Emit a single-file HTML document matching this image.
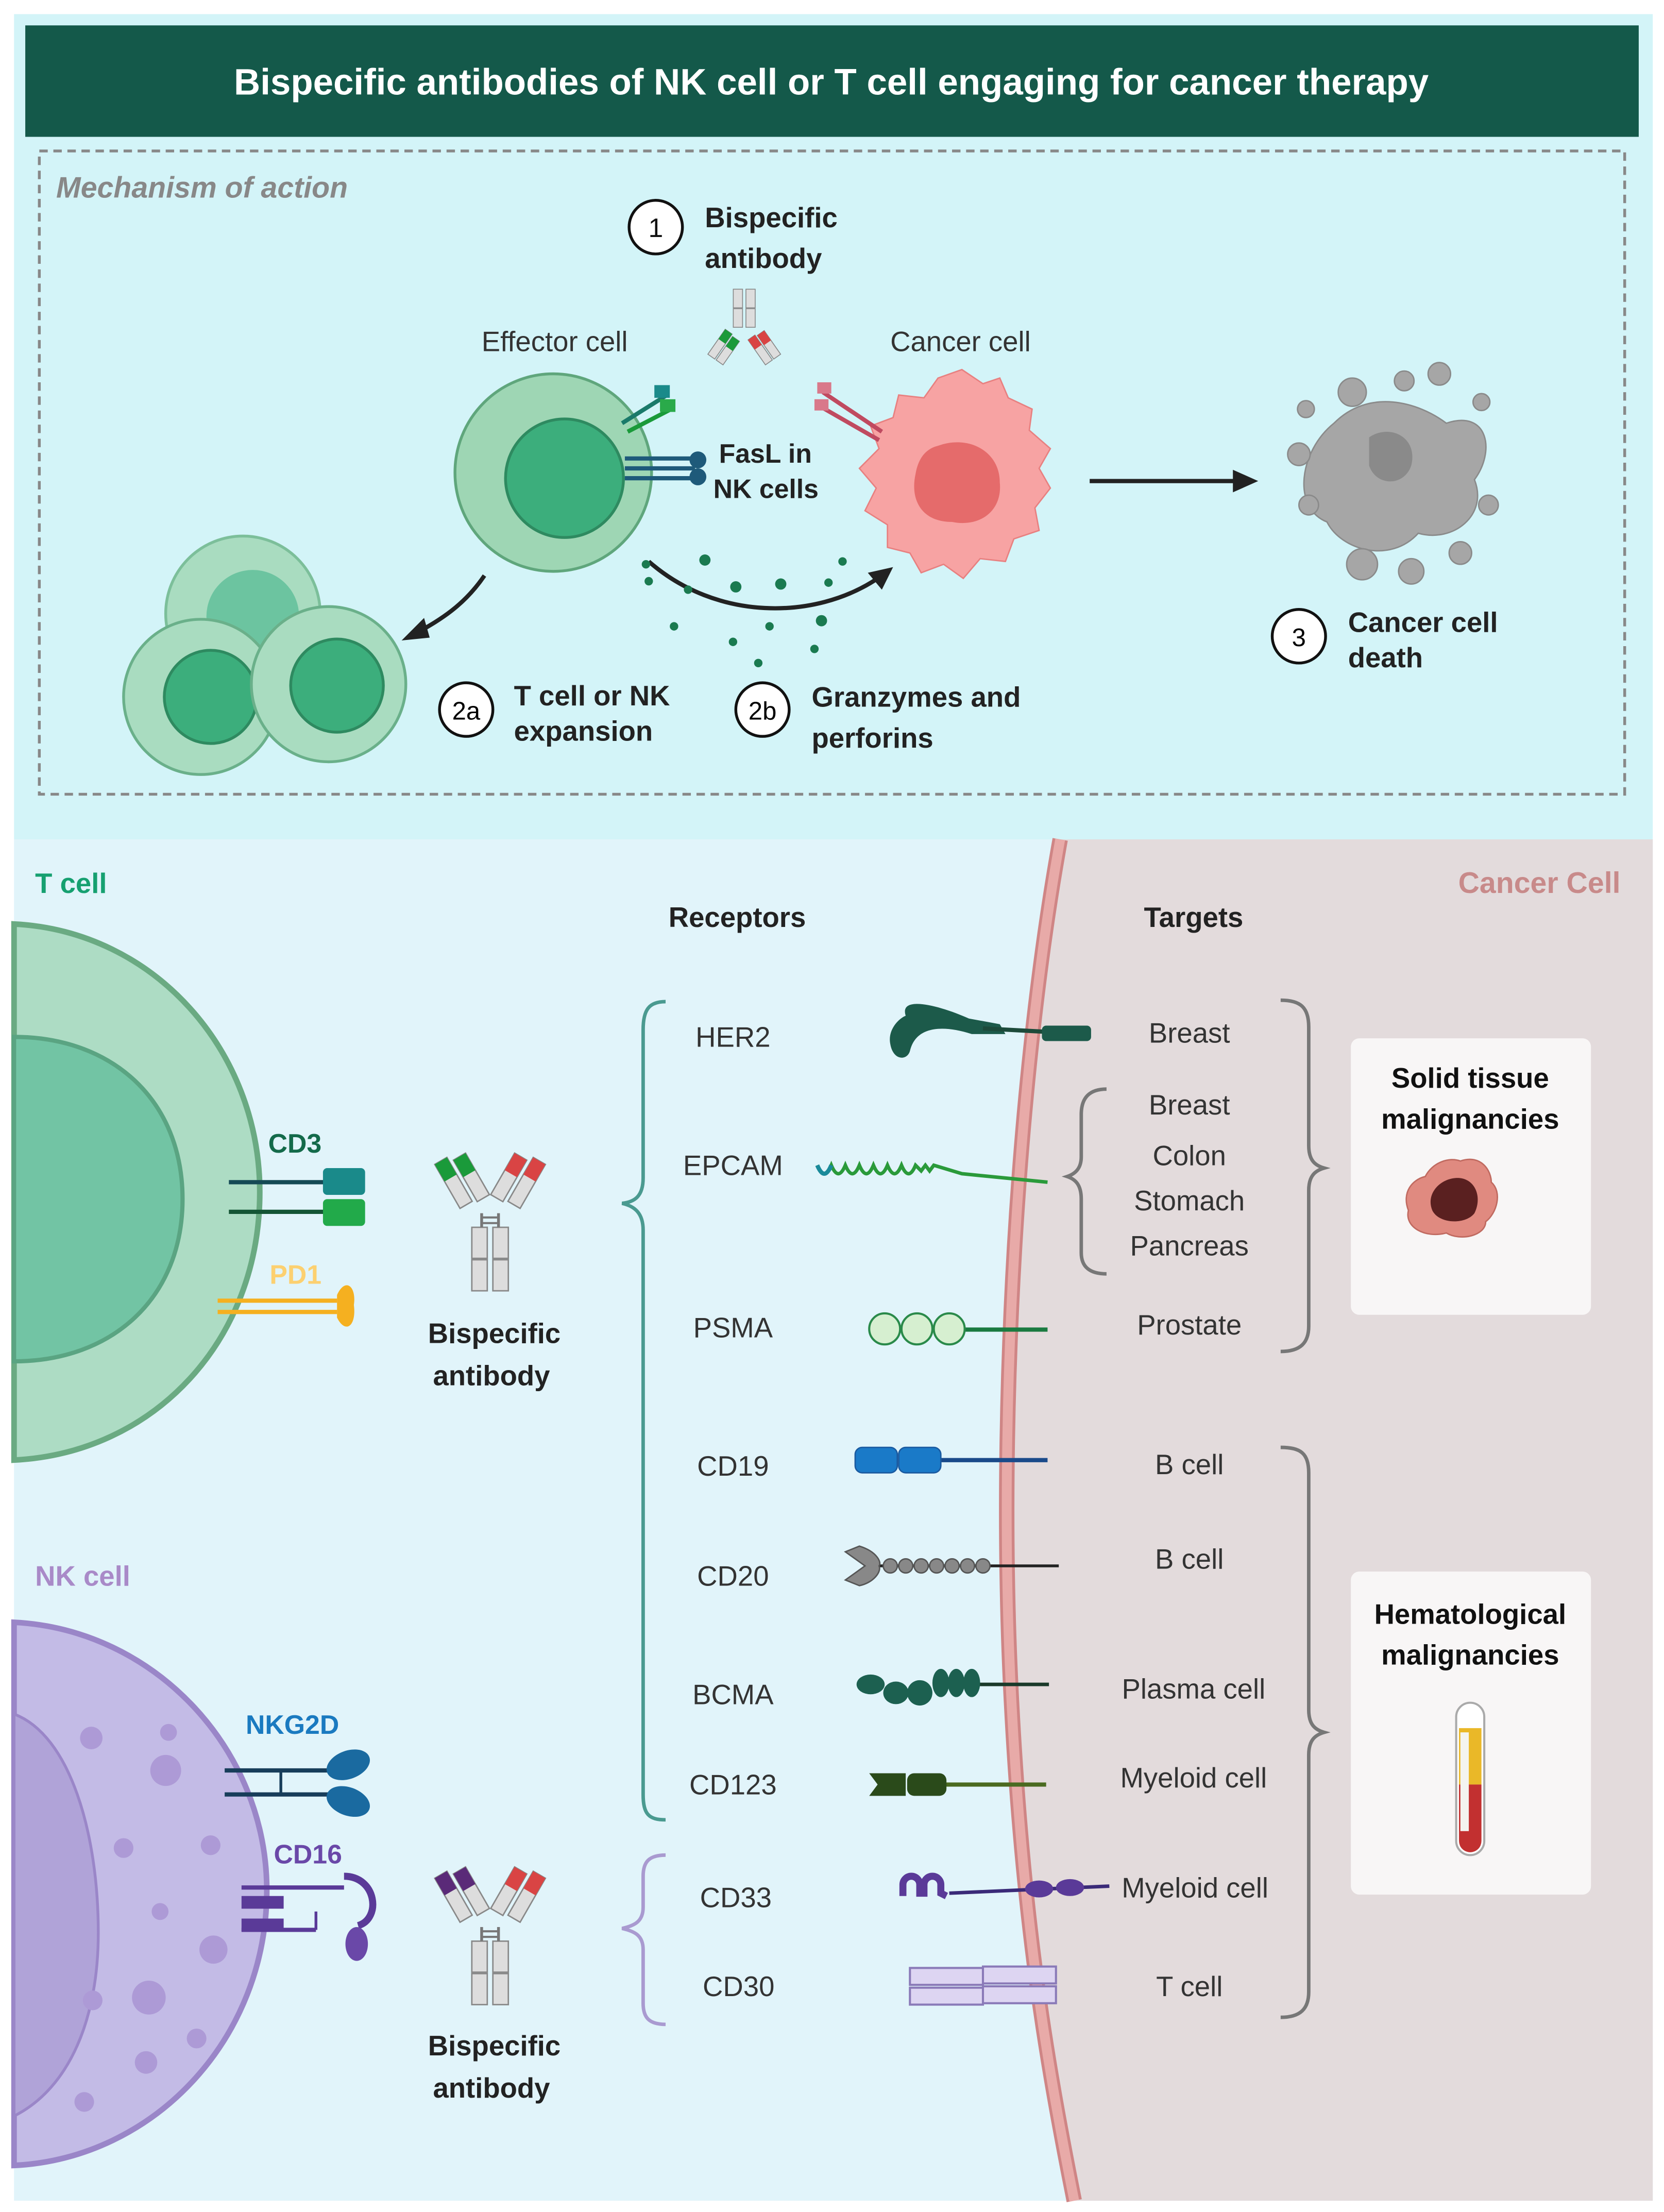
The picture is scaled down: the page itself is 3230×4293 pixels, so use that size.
<!DOCTYPE html>
<html><head><meta charset="utf-8"><style>
html,body{margin:0;padding:0;background:#fff;}
svg{display:block;}
text{font-family:"Liberation Sans",sans-serif;}
</style></head><body>
<svg width="3230" height="4293" viewBox="0 0 1185 1568" preserveAspectRatio="none" xmlns="http://www.w3.org/2000/svg">
<defs>
<g id="ab">
 <rect x="-13" y="55" width="11" height="22" fill="#ddd" stroke="#888" stroke-width="1"/>
 <rect x="2" y="55" width="11" height="22" fill="#ddd" stroke="#888" stroke-width="1"/>
 <rect x="-13" y="78" width="11" height="22" fill="#ddd" stroke="#888" stroke-width="1"/>
 <rect x="2" y="78" width="11" height="22" fill="#ddd" stroke="#888" stroke-width="1"/>
 <line x1="-6" y1="45" x2="-6" y2="55" stroke="#777" stroke-width="2"/>
 <line x1="6" y1="45" x2="6" y2="55" stroke="#777" stroke-width="2"/>
 <line x1="-6" y1="48" x2="6" y2="48" stroke="#777" stroke-width="1.5"/>
 <line x1="-6" y1="52" x2="6" y2="52" stroke="#777" stroke-width="1.5"/>
 <g transform="translate(-20,20) rotate(-30)">
  <rect x="-12" y="-18" width="10" height="36" fill="#ddd" stroke="#888"/>
  <rect x="1" y="-14" width="10" height="34" fill="#ddd" stroke="#888"/>
 </g>
 <g transform="translate(20,20) rotate(30)">
  <rect x="-11" y="-14" width="10" height="34" fill="#ddd" stroke="#888"/>
  <rect x="2" y="-18" width="10" height="36" fill="#ddd" stroke="#888"/>
 </g>
</g>
</defs>
<rect width="1185" height="1568" fill="#fff"/>
<!-- top panel -->
<rect x="10" y="10" width="1167" height="585" fill="#d3f4f8"/>
<rect x="18" y="18" width="1149" height="79" fill="#14594a"/>
<text x="592" y="67" font-size="26" font-weight="bold" fill="#fff" text-anchor="middle">Bispecific antibodies of NK cell or T cell engaging for cancer therapy</text>
<rect x="28" y="107" width="1129" height="456" fill="none" stroke="#888" stroke-width="2" stroke-dasharray="6,4"/>
<text x="40" y="140" font-size="21" font-style="italic" font-weight="bold" fill="#888">Mechanism of action</text>
<!-- step 1 -->
<circle cx="467" cy="161" r="19" fill="#fff" stroke="#111" stroke-width="2"/>
<text x="467" y="168" font-size="19" text-anchor="middle" fill="#111">1</text>
<text x="502" y="161" font-size="20" font-weight="bold" fill="#222">Bispecific</text>
<text x="502" y="190" font-size="20" font-weight="bold" fill="#222">antibody</text>
<g transform="translate(530,205) scale(0.6)">
 <rect x="-13" y="0" width="11" height="22" fill="#ddd" stroke="#888"/><rect x="2" y="0" width="11" height="22" fill="#ddd" stroke="#888"/>
 <rect x="-13" y="23" width="11" height="22" fill="#ddd" stroke="#888"/><rect x="2" y="23" width="11" height="22" fill="#ddd" stroke="#888"/>
 <g transform="translate(-25,70) rotate(35)"><rect x="-11" y="-20" width="10" height="36" fill="#ddd" stroke="#888"/><rect x="-11" y="-20" width="10" height="14" fill="#1a9a3a"/><rect x="1" y="-18" width="10" height="34" fill="#ddd" stroke="#888"/><rect x="1" y="-18" width="10" height="14" fill="#1a9a3a"/></g>
 <g transform="translate(25,70) rotate(-35)"><rect x="-11" y="-20" width="10" height="36" fill="#ddd" stroke="#888"/><rect x="-11" y="-20" width="10" height="14" fill="#d94444"/><rect x="1" y="-18" width="10" height="34" fill="#ddd" stroke="#888"/><rect x="1" y="-18" width="10" height="14" fill="#d94444"/></g>
</g>
<text x="395" y="249" font-size="20" fill="#333" text-anchor="middle">Effector cell</text>
<text x="684" y="249" font-size="20" fill="#333" text-anchor="middle">Cancer cell</text>
<!-- effector cell -->
<circle cx="394" cy="335" r="70" fill="#9ed6b4" stroke="#5fa67c" stroke-width="2"/>
<circle cx="402" cy="339" r="42" fill="#3cae7c" stroke="#2e8a60" stroke-width="2"/>
<line x1="443" y1="300" x2="475" y2="280" stroke="#1a7a6a" stroke-width="3"/>
<line x1="447" y1="306" x2="478" y2="290" stroke="#1a9a3a" stroke-width="3"/>
<rect x="466" y="273" width="11" height="9" fill="#1a8a8a"/><rect x="470" y="283" width="11" height="9" fill="#2aaa4a"/>
<line x1="445" y1="325" x2="495" y2="325" stroke="#1e5a7a" stroke-width="3"/>
<line x1="445" y1="332" x2="495" y2="332" stroke="#1e5a7a" stroke-width="3"/>
<line x1="445" y1="339" x2="495" y2="339" stroke="#1e5a7a" stroke-width="3"/>
<circle cx="497" cy="326" r="6" fill="#1e5a7a"/><circle cx="497" cy="338" r="6" fill="#1e5a7a"/>
<text x="512" y="328" font-size="19" font-weight="bold" fill="#222">FasL in</text>
<text x="508" y="353" font-size="19" font-weight="bold" fill="#222">NK cells</text>
<!-- cancer cell -->
<path d="M685,262 L700,272 L712,268 L718,282 L735,290 L733,305 L748,318 L740,332 L748,346 L737,360 L740,376 L722,382 L716,398 L698,396 L686,410 L672,400 L656,406 L648,392 L632,388 L632,372 L616,362 L624,346 L612,332 L626,318 L620,302 L636,296 L640,280 L658,282 L668,268 Z" fill="#f7a3a3" stroke="#e88080" stroke-width="1"/>
<path d="M668,316 C690,308 712,320 712,342 C714,362 698,374 678,370 C656,370 648,354 652,336 C654,324 660,318 668,316 Z" fill="#e56b6b"/>
<line x1="628" y1="306" x2="586" y2="278" stroke="#c04a60" stroke-width="3"/>
<line x1="626" y1="312" x2="584" y2="288" stroke="#c04a60" stroke-width="3"/>
<rect x="582" y="271" width="10" height="8" fill="#d9788a"/><rect x="580" y="283" width="10" height="8" fill="#d9788a"/>
<!-- arrows -->
<line x1="776" y1="341" x2="880" y2="341" stroke="#222" stroke-width="3"/>
<polygon points="896,341 878,333 878,349" fill="#222"/>
<path d="M462,398 C510,440 580,440 625,410" fill="none" stroke="#222" stroke-width="3"/>
<polygon points="636,402 618,406 628,418" fill="#222"/>
<path d="M345,408 C330,430 312,440 298,448" fill="none" stroke="#222" stroke-width="3"/>
<polygon points="286,454 302,438 306,452" fill="#222"/>
<g fill="#1a7a50">
<circle cx="502" cy="397" r="4"/><circle cx="524" cy="416" r="4"/><circle cx="556" cy="414" r="4"/><circle cx="590" cy="413" r="3"/><circle cx="462" cy="412" r="3"/><circle cx="490" cy="418" r="3"/><circle cx="480" cy="444" r="3"/><circle cx="522" cy="455" r="3"/><circle cx="548" cy="444" r="3"/><circle cx="580" cy="460" r="3"/><circle cx="540" cy="470" r="3"/><circle cx="600" cy="398" r="3"/><circle cx="585" cy="440" r="4"/><circle cx="460" cy="400" r="3"/>
</g>
<!-- expansion cells -->
<circle cx="173" cy="435" r="55" fill="#a9dcc0" stroke="#7cbf9a" stroke-width="2"/>
<circle cx="180" cy="437" r="33" fill="#6cc4a0"/>
<circle cx="143" cy="494" r="55" fill="#a9dcc0" stroke="#6ab08a" stroke-width="2"/>
<circle cx="150" cy="494" r="33" fill="#3cae7c" stroke="#2e8a60" stroke-width="2"/>
<circle cx="234" cy="485" r="55" fill="#a9dcc0" stroke="#6ab08a" stroke-width="2"/>
<circle cx="240" cy="486" r="33" fill="#3cae7c" stroke="#2e8a60" stroke-width="2"/>
<circle cx="332" cy="503" r="19" fill="#fff" stroke="#111" stroke-width="2"/>
<text x="332" y="510" font-size="18" text-anchor="middle">2a</text>
<text x="366" y="500" font-size="20" font-weight="bold" fill="#222">T cell or NK</text>
<text x="366" y="525" font-size="20" font-weight="bold" fill="#222">expansion</text>
<circle cx="543" cy="503" r="19" fill="#fff" stroke="#111" stroke-width="2"/>
<text x="543" y="510" font-size="18" text-anchor="middle">2b</text>
<text x="578" y="501" font-size="20" font-weight="bold" fill="#222">Granzymes and</text>
<text x="578" y="530" font-size="20" font-weight="bold" fill="#222">perforins</text>
<!-- dead cell -->
<g fill="#a6a6a6" stroke="#8a8a8a" stroke-width="1">
<path d="M950,300 C975,275 1010,285 1030,300 C1060,290 1065,320 1050,340 C1060,365 1035,385 1010,378 C990,400 955,390 945,370 C920,360 925,320 950,300 Z"/>
<circle cx="963" cy="278" r="10"/><circle cx="1000" cy="270" r="7"/><circle cx="930" cy="290" r="6"/><circle cx="925" cy="322" r="8"/><circle cx="932" cy="358" r="7"/><circle cx="970" cy="400" r="11"/><circle cx="1005" cy="405" r="9"/><circle cx="1040" cy="392" r="8"/><circle cx="1060" cy="358" r="7"/><circle cx="1055" cy="285" r="6"/><circle cx="1025" cy="265" r="8"/>
</g>
<path d="M975,310 C990,300 1010,310 1005,330 C1000,345 980,345 975,330 Z" fill="#8a8a8a"/>
<circle cx="925" cy="451" r="19" fill="#fff" stroke="#111" stroke-width="2"/>
<text x="925" y="458" font-size="18" text-anchor="middle">3</text>
<text x="960" y="448" font-size="20" font-weight="bold" fill="#222">Cancer cell</text>
<text x="960" y="473" font-size="20" font-weight="bold" fill="#222">death</text>

<!-- bottom panel -->
<rect x="10" y="595" width="1167" height="965" fill="#e1f4fa"/>
<path d="M755,595 C725,760 710,1000 720,1200 C728,1360 745,1460 765,1560 L1177,1560 L1177,595 Z" fill="#e3dbdc"/>
<path d="M755,595 C725,760 710,1000 720,1200 C728,1360 745,1460 765,1560" fill="none" stroke="#cf8585" stroke-width="11"/>
<path d="M755,595 C725,760 710,1000 720,1200 C728,1360 745,1460 765,1560" fill="none" stroke="#e8aaa8" stroke-width="7"/>
<text x="25" y="633" font-size="20" font-weight="bold" fill="#16a070">T cell</text>
<text x="1154" y="633" font-size="21" font-weight="bold" fill="#c88a8a" text-anchor="end">Cancer Cell</text>
<text x="525" y="657" font-size="20" font-weight="bold" fill="#222" text-anchor="middle">Receptors</text>
<text x="850" y="657" font-size="20" font-weight="bold" fill="#222" text-anchor="middle">Targets</text>
<!-- T cell -->
<path d="M10,655 C110,660 185,745 185,845 C185,950 110,1030 10,1035 Z" fill="#addcc4" stroke="#6aaa82" stroke-width="4"/>
<path d="M10,735 C80,735 130,780 130,850 C130,920 80,965 10,965 Z" fill="#72c4a4" stroke="#5aa482" stroke-width="3"/>
<text x="191" y="817" font-size="19" font-weight="bold" fill="#136a4a">CD3</text>
<line x1="163" y1="838" x2="232" y2="838" stroke="#154a55" stroke-width="3"/>
<line x1="163" y1="859" x2="232" y2="859" stroke="#145535" stroke-width="3"/>
<rect x="230" y="828" width="30" height="19" rx="3" fill="#1a8a8a"/>
<rect x="230" y="850" width="30" height="19" rx="3" fill="#22aa4a"/>
<text x="192" y="910" font-size="19" font-weight="bold" fill="#fcd070">PD1</text>
<line x1="155" y1="922" x2="240" y2="922" stroke="#f5b020" stroke-width="3"/>
<line x1="155" y1="930" x2="240" y2="930" stroke="#f5b020" stroke-width="3"/>
<path d="M240,918 C246,905 254,912 252,925 C254,940 246,946 240,934 Z" fill="#f5b020"/>
<!-- antibody 1 -->
<g transform="translate(349,815)">
 <use href="#ab"/>
 <g transform="translate(-20,20) rotate(-30)"><rect x="-12" y="-18" width="10" height="14" fill="#1a9a3a"/><rect x="1" y="-14" width="10" height="14" fill="#1a9a3a"/></g>
 <g transform="translate(20,20) rotate(30)"><rect x="-11" y="-14" width="10" height="14" fill="#d94444"/><rect x="2" y="-18" width="10" height="14" fill="#d94444"/></g>
</g>
<text x="352" y="952" font-size="20" font-weight="bold" fill="#222" text-anchor="middle">Bispecific</text>
<text x="350" y="982" font-size="20" font-weight="bold" fill="#222" text-anchor="middle">antibody</text>
<!-- NK cell -->
<text x="25" y="1124" font-size="20" font-weight="bold" fill="#a98ac8">NK cell</text>
<path d="M10,1150 C110,1155 190,1240 190,1340 C190,1445 110,1530 10,1535 Z" fill="#c3bbe6" stroke="#9a86c8" stroke-width="4"/>
<path d="M10,1215 C50,1230 70,1300 70,1370 C70,1430 50,1480 10,1500 Z" fill="#b0a3d8" stroke="#9a86c8" stroke-width="2"/>
<g fill="#ad9ad6"><circle cx="65" cy="1232" r="8"/><circle cx="118" cy="1255" r="11"/><circle cx="88" cy="1310" r="7"/><circle cx="150" cy="1308" r="7"/><circle cx="114" cy="1355" r="6"/><circle cx="152" cy="1382" r="10"/><circle cx="106" cy="1416" r="12"/><circle cx="66" cy="1418" r="7"/><circle cx="140" cy="1445" r="7"/><circle cx="104" cy="1462" r="8"/><circle cx="60" cy="1490" r="7"/><circle cx="120" cy="1228" r="6"/></g>
<text x="175" y="1229" font-size="19" font-weight="bold" fill="#1a7ac0">NKG2D</text>
<line x1="160" y1="1255" x2="235" y2="1255" stroke="#173d5a" stroke-width="3"/>
<line x1="160" y1="1272" x2="235" y2="1272" stroke="#173d5a" stroke-width="3"/>
<line x1="200" y1="1255" x2="200" y2="1272" stroke="#173d5a" stroke-width="2"/>
<ellipse cx="248" cy="1251" rx="16" ry="10" transform="rotate(-20 248 1251)" fill="#1a6aa0"/>
<ellipse cx="248" cy="1277" rx="16" ry="10" transform="rotate(20 248 1277)" fill="#1a6aa0"/>
<text x="195" y="1321" font-size="19" font-weight="bold" fill="#6a48a8">CD16</text>
<line x1="172" y1="1338" x2="245" y2="1338" stroke="#5a3a98" stroke-width="3"/>
<line x1="172" y1="1368" x2="225" y2="1368" stroke="#5a3a98" stroke-width="3"/>
<rect x="172" y="1344" width="30" height="9" fill="#5a3a98"/><rect x="172" y="1360" width="30" height="9" fill="#5a3a98"/>
<line x1="225" y1="1355" x2="225" y2="1368" stroke="#5a3a98" stroke-width="2"/>
<path d="M245,1330 C268,1330 272,1360 255,1365" fill="none" stroke="#5a3a98" stroke-width="5"/>
<ellipse cx="254" cy="1378" rx="8" ry="12" fill="#6a48a8"/>
<!-- antibody 2 -->
<g transform="translate(349,1321)">
 <use href="#ab"/>
 <g transform="translate(-20,20) rotate(-30)"><rect x="-12" y="-18" width="10" height="14" fill="#5a2a78"/><rect x="1" y="-14" width="10" height="14" fill="#5a2a78"/></g>
 <g transform="translate(20,20) rotate(30)"><rect x="-11" y="-14" width="10" height="14" fill="#d94444"/><rect x="2" y="-18" width="10" height="14" fill="#d94444"/></g>
</g>
<text x="352" y="1457" font-size="20" font-weight="bold" fill="#222" text-anchor="middle">Bispecific</text>
<text x="350" y="1487" font-size="20" font-weight="bold" fill="#222" text-anchor="middle">antibody</text>
<!-- braces left -->
<path d="M474,710 C462,710 458,716 458,730 L458,835 C458,848 452,852 443,853 C452,855 458,860 458,872 L458,1272 C458,1286 462,1290 474,1290" fill="none" stroke="#4a9a90" stroke-width="2.5"/>
<path d="M474,1315 C462,1315 458,1320 458,1330 L458,1352 C458,1362 452,1365 443,1367 C452,1369 458,1372 458,1382 L458,1420 C458,1430 462,1435 474,1435" fill="none" stroke="#a99ad0" stroke-width="2.5"/>
<!-- receptor labels -->
<g font-size="20" fill="#333" text-anchor="middle">
<text x="522" y="742">HER2</text><text x="522" y="833">EPCAM</text><text x="522" y="948">PSMA</text>
<text x="522" y="1046">CD19</text><text x="522" y="1124">CD20</text><text x="522" y="1208">BCMA</text>
<text x="522" y="1272">CD123</text><text x="524" y="1352">CD33</text><text x="526" y="1415">CD30</text>
</g>
<!-- target labels -->
<g font-size="20" fill="#333" text-anchor="middle">
<text x="847" y="739">Breast</text><text x="847" y="790">Breast</text><text x="847" y="826">Colon</text><text x="847" y="858">Stomach</text><text x="847" y="890">Pancreas</text><text x="847" y="946">Prostate</text>
<text x="847" y="1045">B cell</text><text x="847" y="1112">B cell</text><text x="850" y="1204">Plasma cell</text><text x="850" y="1267">Myeloid cell</text><text x="851" y="1345">Myeloid cell</text><text x="847" y="1415">T cell</text>
</g>
<!-- right braces -->
<g fill="none" stroke="#777" stroke-width="2.5">
<path d="M912,709 C926,709 932,714 932,728 L932,812 C932,822 936,826 943,828 C936,830 932,834 932,844 L932,940 C932,952 926,958 912,958"/>
<path d="M788,772 C776,772 770,778 770,790 L770,820 C770,828 766,832 760,834 C766,836 770,840 770,850 L770,888 C770,898 776,903 788,903"/>
<path d="M912,1026 C926,1026 932,1030 932,1044 L932,1212 C932,1222 936,1226 943,1228 C936,1230 932,1234 932,1244 L932,1412 C932,1424 926,1430 912,1430"/>
</g>
<!-- receptor glyphs -->
<path d="M645,720 C640,705 670,713 690,722 L712,726 L716,733 L692,733 C670,726 652,728 648,745 C646,752 636,752 634,740 C632,730 640,722 645,720 Z" fill="#1c5a4a"/>
<line x1="700" y1="729" x2="775" y2="733" stroke="#1c4a3a" stroke-width="3"/>
<rect x="742" y="727" width="35" height="11" rx="3" fill="#1c5a4a"/>
<path d="M582,826 q5,12 10,0 q5,12 10,0 q5,12 10,0 q5,12 10,0 q5,12 10,0 q5,12 10,0 q5,12 10,0 l4,4 l3,-4 l3,4 l3,-4 l20,6 L746,838" fill="none" stroke="#2a9a3a" stroke-width="2.5"/>
<path d="M582,826 q5,12 10,0" fill="none" stroke="#1a8a9a" stroke-width="3"/>
<rect x="622" y="941" width="124" height="3" fill="#1a7a40"/>
<circle cx="630" cy="942" r="11" fill="#d6efd0" stroke="#2a8a4a" stroke-width="1.5"/>
<circle cx="653" cy="942" r="11" fill="#d6efd0" stroke="#2a8a4a" stroke-width="1.5"/>
<circle cx="676" cy="942" r="11" fill="#d6efd0" stroke="#2a8a4a" stroke-width="1.5"/>
<line x1="660" y1="1035" x2="746" y2="1035" stroke="#1a4a8a" stroke-width="3"/>
<rect x="609" y="1026" width="30" height="18" rx="5" fill="#1a7ac8" stroke="#1a5aa0"/>
<rect x="640" y="1026" width="30" height="18" rx="5" fill="#1a7ac8" stroke="#1a5aa0"/>
<line x1="620" y1="1110" x2="754" y2="1110" stroke="#222" stroke-width="2"/>
<path d="M602,1100 L612,1096 C625,1100 628,1108 626,1110 C628,1114 622,1122 612,1124 L602,1120 L616,1110 Z" fill="#888" stroke="#555"/>
<g fill="#888" stroke="#555"><circle cx="634" cy="1110" r="5"/><circle cx="645" cy="1110" r="5"/><circle cx="656" cy="1110" r="5"/><circle cx="667" cy="1110" r="5"/><circle cx="678" cy="1110" r="5"/><circle cx="700" cy="1110" r="5"/><circle cx="689" cy="1110" r="5"/></g>
<line x1="690" y1="1194" x2="747" y2="1194" stroke="#1a3a2a" stroke-width="2.5"/>
<g fill="#1c6050"><ellipse cx="620" cy="1194" rx="10" ry="7"/><ellipse cx="638" cy="1200" rx="9" ry="8"/><ellipse cx="655" cy="1200" rx="9" ry="9" transform="rotate(-30 655 1200)"/><ellipse cx="670" cy="1193" rx="6" ry="10"/><ellipse cx="681" cy="1193" rx="6" ry="10"/><ellipse cx="692" cy="1193" rx="6" ry="10"/></g>
<line x1="660" y1="1265" x2="745" y2="1265" stroke="#4a6a20" stroke-width="3"/>
<path d="M619,1257 L645,1257 L645,1273 L619,1273 L625,1265 Z" fill="#2a4a1a"/>
<rect x="646" y="1257" width="28" height="16" rx="5" fill="#2a4a1a"/>
<path d="M643,1344 l0,-8 a6,6 0 0 1 12,0 l0,6 l3,0 l0,-6 a6,6 0 0 1 12,0 l0,6 l4,2" fill="none" stroke="#5a3a98" stroke-width="5"/>
<line x1="676" y1="1342" x2="790" y2="1337" stroke="#3a2a78" stroke-width="2.5"/>
<ellipse cx="740" cy="1339" rx="10" ry="6" fill="#5a3a98"/><ellipse cx="762" cy="1338" rx="10" ry="6" fill="#5a3a98"/>
<g fill="#ddd5f2" stroke="#8a7ab8" stroke-width="1.5">
<rect x="648" y="1395" width="52" height="12"/><rect x="700" y="1394" width="52" height="12"/>
<rect x="648" y="1409" width="52" height="12"/><rect x="700" y="1408" width="52" height="12"/>
</g>
<!-- boxes -->
<rect x="962" y="736" width="171" height="196" rx="6" fill="#f8f6f6"/>
<text x="1047" y="771" font-size="20" font-weight="bold" fill="#111" text-anchor="middle">Solid tissue</text>
<text x="1047" y="800" font-size="20" font-weight="bold" fill="#111" text-anchor="middle">malignancies</text>
<path d="M1040,823 C1055,818 1062,830 1062,838 C1070,845 1066,860 1058,866 C1058,876 1040,880 1030,874 C1015,878 1000,870 1003,858 C998,845 1006,836 1015,834 C1020,824 1032,820 1040,823 Z" fill="#e08a80" stroke="#c06a60"/>
<path d="M1038,835 C1050,835 1056,848 1050,860 C1044,868 1025,868 1020,858 C1015,846 1026,835 1038,835 Z" fill="#5a2020"/>
<rect x="962" y="1114" width="171" height="229" rx="6" fill="#f8f6f6"/>
<text x="1047" y="1151" font-size="20" font-weight="bold" fill="#111" text-anchor="middle">Hematological</text>
<text x="1047" y="1180" font-size="20" font-weight="bold" fill="#111" text-anchor="middle">malignancies</text>
<rect x="1037" y="1207" width="20" height="108" rx="10" fill="#fff" stroke="#aaa" stroke-width="1.5"/>
<rect x="1039" y="1225" width="16" height="40" fill="#eab828"/>
<path d="M1039,1265 L1055,1265 L1055,1305 A8,8 0 0 1 1039,1305 Z" fill="#c23030"/>
<rect x="1040" y="1228" width="6" height="70" fill="#f4f4f0"/>
</svg>
</body></html>
